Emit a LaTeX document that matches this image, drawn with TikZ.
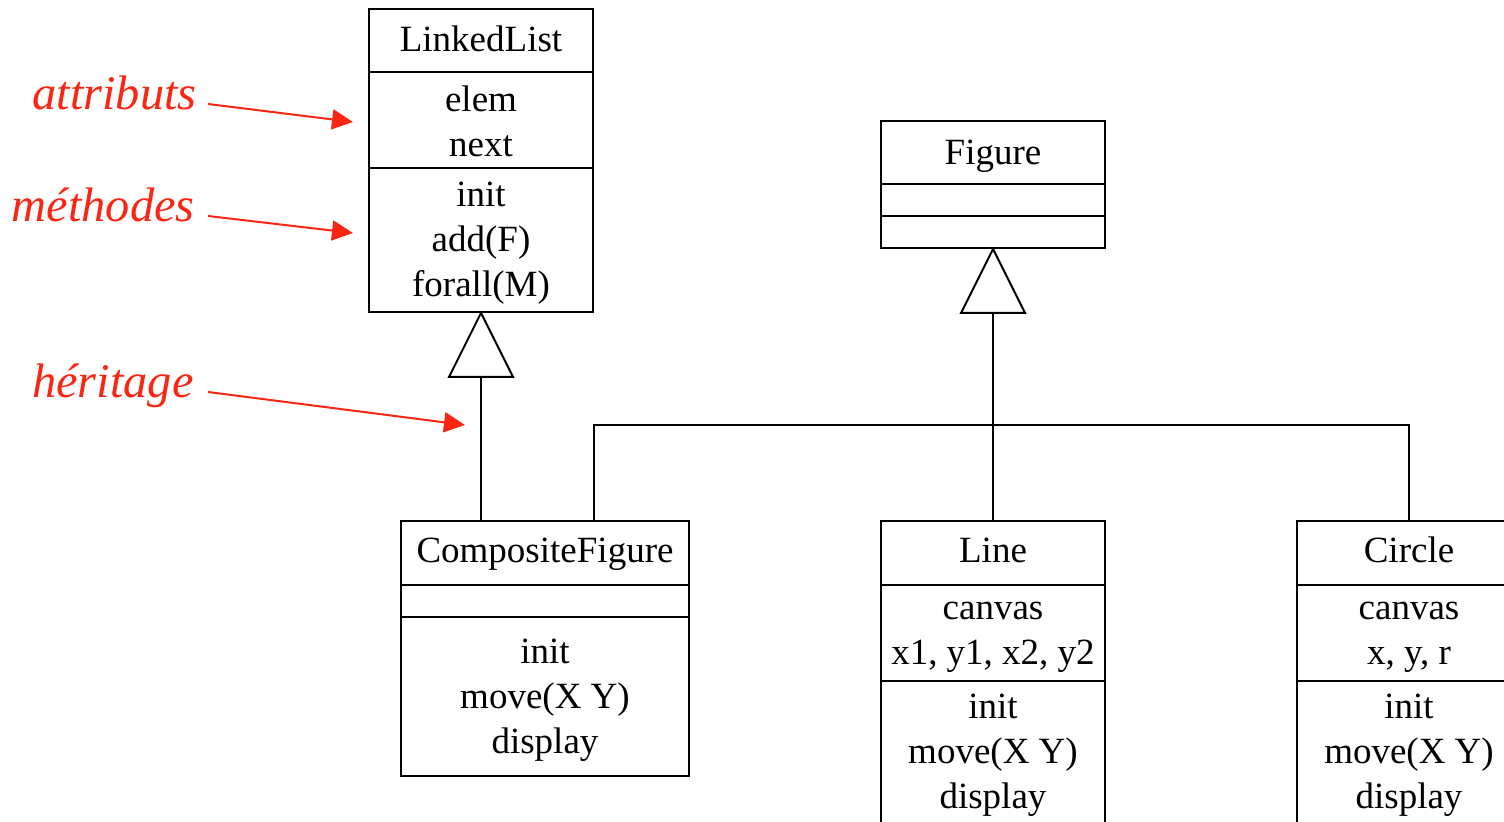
\documentclass[tikz,border=0pt]{standalone}
\usepackage{fontspec}
\setmainfont{Liberation Serif}
\usetikzlibrary{arrows.meta}
\definecolor{annot}{RGB}{250,38,20}
\begin{document}
\begin{tikzpicture}[x=0.5pt,y=-0.5pt,
  cls/.style={draw, line width=1pt, inner sep=0pt},
  txt/.style={font=\fontsize{18.5}{22.4}\selectfont, align=center, inner sep=0pt},
  ttl/.style={font=\fontsize{18.5}{22.4}\selectfont, inner sep=0pt, anchor=base},
  lbl/.style={font=\fontsize{24.2}{27}\selectfont\itshape, text=annot, inner sep=0pt, anchor=base east},
  note/.style={draw=annot, line width=1pt, -{Triangle[length=10.5pt,width=10pt]}},
  gen/.style={draw, line width=1pt, fill=white, line join=miter},
  link/.style={draw, line width=1pt}]
\useasboundingbox (0,0) rectangle (1504,822);

% class boxes
\node[cls, minimum width=112pt, minimum height=151.5pt] (LL) at (481,160.5) {};
\node[cls, minimum width=112pt, minimum height=63.5pt] (Fig) at (993,184.5) {};
\node[cls, minimum width=144pt, minimum height=127.5pt] (CF) at (545,648.5) {};
\node[cls, minimum width=112pt, minimum height=151.5pt] (Line) at (993,672.5) {};
\node[cls, minimum width=112pt, minimum height=151.5pt] (Circ) at (1409,672.5) {};

% compartment dividers
\draw[link] (369,72) -- (593,72);
\draw[link] (369,168) -- (593,168);
\draw[link] (881,184) -- (1105,184);
\draw[link] (881,216) -- (1105,216);
\draw[link] (401,585) -- (689,585);
\draw[link] (401,617) -- (689,617);
\draw[link] (881,585) -- (1105,585);
\draw[link] (881,681) -- (1105,681);
\draw[link] (1297,585) -- (1521,585);
\draw[link] (1297,681) -- (1521,681);

% texts
\node[ttl] (LLname) at (481,52) {LinkedList};
\node[txt] (LLattr) at (481,121) {elem\\next};
\node[txt] (LLmeth) at (481,243) {init\\add(F)\\forall(M)};
\node[ttl] (Figname) at (993,165) {Figure};
\node[ttl] (CFname) at (545,563) {CompositeFigure};
\node[txt] (CFmeth) at (545,700) {init\\move(X Y)\\display};
\node[ttl] (Linename) at (993,563) {Line};
\node[txt] (Lineattr) at (993,637) {canvas\\x1, y1, x2, y2};
\node[txt] (Linemeth) at (993,755) {init\\move(X Y)\\display};
\node[ttl] (Circname) at (1409,563) {Circle};
\node[txt] (Circattr) at (1409,637) {canvas\\x, y, r};
\node[txt] (Circmeth) at (1409,755) {init\\move(X Y)\\display};

% inheritance
\draw[gen] (LL.south) -- ++(-32,64) -- ++(64,0) -- cycle;
\draw[link] ([yshift=-32pt]LL.south) -- (LL.south |- CF.north);
\draw[gen] (Fig.south) -- ++(-32,64) -- ++(64,0) -- cycle;
\draw[link] ([yshift=-32pt]Fig.south) -- (Line.north);
\coordinate (junc) at (993,425);
\draw[link] (CF.north -| LL.east) |- (junc) -| (Circ.north);

% annotations
\node[lbl] (attr) at (197,110) {attributs};
\node[lbl] (meth) at (195,222) {méthodes};
\node[lbl] (herit) at (194,398) {héritage};
\coordinate (attrS) at (208,104);
\coordinate (attrE) at (353,122);
\coordinate (methS) at (208,216);
\coordinate (methE) at (353,233);
\coordinate (heritS) at (208,392);
\coordinate (heritE) at (465,425);
\draw[note] (attrS) -- (attrE);
\draw[note] (methS) -- (methE);
\draw[note] (heritS) -- (heritE);
\end{tikzpicture}
\end{document}
